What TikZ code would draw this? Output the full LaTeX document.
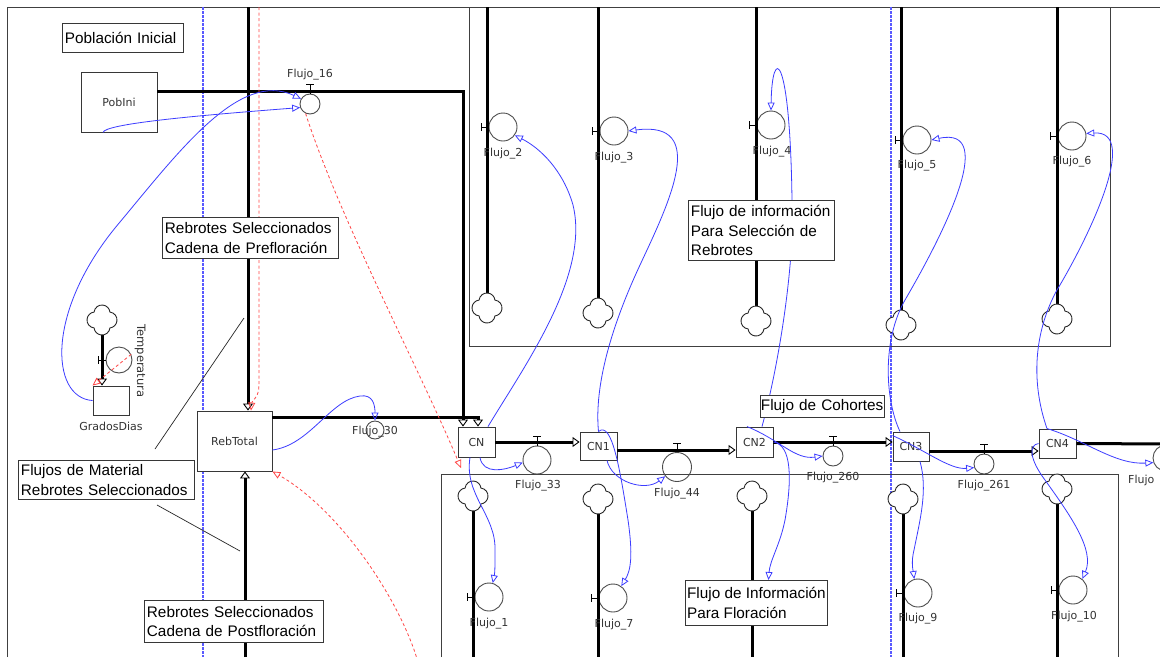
\documentclass[tikz,border=0pt]{standalone}
\usepackage{fontspec}
\setmainfont{Liberation Sans}
\newfontfamily\smallf{DejaVu Sans}
\usetikzlibrary{arrows.meta}
\definecolor{infob}{RGB}{60,60,255}
\definecolor{redd}{RGB}{255,70,70}
\definecolor{dotb}{RGB}{90,90,255}
\definecolor{edge}{RGB}{55,55,55}
\newcommand{\Hmark}[1]{\draw[hmk] ([xshift=-7pt]#1.west) ++(0,-4) -- ++(0,8) ([xshift=-7pt]#1.west) -- (#1.west);}
\newcommand{\Tmark}[1]{\draw[hmk] (#1.north) -- ++(0,-9) ++(-4,0) -- ++(8,0);}
\tikzset{
  pipe/.style={line width=3pt, draw=black},
  pipearrow/.style={pipe, -{Triangle[open, length=7pt, width=10pt, line width=0.9pt]}},
  valve/.style={circle, draw=black!70, line width=0.9pt, inner sep=0pt},
  lbl/.style={font=\smallf\fontsize{11}{13}\selectfont, text=black!80, inner sep=0pt},
  stock/.style={draw=edge, line width=0.9pt, fill=white, inner sep=0pt, font=\smallf\fontsize{11}{13}\selectfont, text=black!80},
  tbox/.style={draw=edge, line width=0.9pt, fill=white, align=left, inner xsep=2.5pt, inner ysep=0pt, font=\fontsize{15.3}{19.5}\selectfont, anchor=north west, execute at begin node={\hyphenpenalty=10000\exhyphenpenalty=10000}},
  info/.style={draw=infob, line width=0.8pt, -{Triangle[open, length=8pt, width=7pt, line width=0.8pt]}},
  rdash/.style={draw=redd, line width=0.8pt, dash pattern=on 3pt off 2.5pt, -{Triangle[open, length=8pt, width=7pt, line width=0.8pt]}},
  vdot/.style={draw=dotb, line width=1.2pt, dash pattern=on 2.5pt off 1.5pt},
  frame/.style={draw=black!75, line width=0.9pt},
  thinl/.style={draw=black!85, line width=0.7pt},
  hmk/.style={draw=black, line width=0.9pt},
  cloudn/.style={circle, minimum size=30pt, inner sep=0pt},
  cloudpic/.pic={\draw[x=1pt,y=1pt,draw=black!85,line width=0.9pt,fill=white]
     (-7.94,7.94) arc[start angle=173.25,end angle=6.75,radius=8pt]
     arc[start angle=83.25,end angle=-83.25,radius=8pt]
     arc[start angle=-6.75,end angle=-173.25,radius=8pt]
     arc[start angle=-96.75,end angle=-263.25,radius=8pt] -- cycle;}
}
\begin{document}
\begin{tikzpicture}[x=1pt,y=-1pt]
\useasboundingbox (0,0) rectangle (1160,657);
\clip (0,0) rectangle (1160,657);
\fill[white] (0,0) rectangle (1160,657);
\coordinate (topc) at (0,7);
\coordinate (botc) at (0,657);

% frames
\draw[frame] (7,657) -- (7,7) -- (1160,7);
\draw[frame] (469,7) rectangle (1110,346);
\draw[frame] (441,657) -- (441,474) -- (1118,474) -- (1118,657);

% dotted guide lines
\draw[vdot] (203,7) -- (203,657);
\draw[vdot] (891,7) -- (891,657);

% stocks
\node[stock, minimum width=76pt, minimum height=60pt] (pob) at (119,102) {PobIni};
\node[stock, minimum width=36pt, minimum height=29pt] (grados) at (111,400.5) {};
\node[stock, minimum width=75pt, minimum height=60pt] (reb) at (234.5,441) {RebTotal};
\node[stock, minimum width=37pt, minimum height=30pt] (cn) at (476.5,442) {CN};
\node[stock, minimum width=37pt, minimum height=28pt] (cn1) at (598.5,446) {CN1};
\node[stock, minimum width=37pt, minimum height=30pt] (cn2) at (754.5,442) {CN2};
\node[stock, minimum width=36pt, minimum height=29pt] (cn3) at (911,446.5) {CN3};
\node[stock, minimum width=37pt, minimum height=29pt] (cn4) at (1057.5,443.5) {CN4};

% clouds (placeholders)
\node[cloudn] (tc) at (102,320) {};
\node[cloudn] (uc1) at (487,308) {};
\node[cloudn] (uc2) at (598,313) {};
\node[cloudn] (uc3) at (756,321) {};
\node[cloudn] (uc4) at (901,325) {};
\node[cloudn] (uc5) at (1057,319) {};
\node[cloudn] (lc1) at (473,496) {};
\node[cloudn] (lc2) at (598,499) {};
\node[cloudn] (lc3) at (752,496) {};
\node[cloudn] (lc4) at (903,499) {};
\node[cloudn] (lc5) at (1057,489) {};

% valves
\node[valve, minimum size=20pt] (f16) at (310,104) {};
\node[valve, minimum size=18pt] (f30) at (375,430) {};
\node[valve, minimum size=26pt] (tv) at (119,360) {};
\node[valve, minimum size=28pt] (f2) at (503,127) {};
\node[valve, minimum size=28pt] (f3) at (614,131) {};
\node[valve, minimum size=28pt] (f4) at (771,125) {};
\node[valve, minimum size=28pt] (f5) at (917,140) {};
\node[valve, minimum size=28pt] (f6) at (1072,136) {};
\node[valve, minimum size=28pt] (f33) at (537,460) {};
\node[valve, minimum size=29pt] (f44) at (677,467) {};
\node[valve, minimum size=20pt] (f260) at (833,456) {};
\node[valve, minimum size=20pt] (f261) at (984,464) {};
\node[valve, minimum size=26pt] (fx) at (1166,458) {};
\node[valve, minimum size=28pt] (f1) at (489,597) {};
\node[valve, minimum size=28pt] (f7) at (613,598) {};
\node[valve, minimum size=28pt] (f9) at (918,593) {};
\node[valve, minimum size=28pt] (f10) at (1073,590) {};

% pipes
\coordinate (p0) at ([xshift=13.5pt]reb.north);
\draw[pipearrow] (p0 |- topc) -- (p0);
\coordinate (pb) at ([xshift=10.5pt]reb.south);
\draw[pipearrow] (pb |- botc) -- (pb);
\coordinate (pp) at ([yshift=11pt]pob.east);
\coordinate (pc) at ([xshift=-13.5pt]cn.north);
\draw[pipearrow] (pp) -| (pc);
\coordinate (pr) at ([yshift=24pt]reb.east);
\coordinate (pc2) at ([xshift=1.5pt]cn.north);
\draw[pipearrow] (pr) -| (pc2);
\draw[pipearrow] (tc.south) -- ([xshift=-9pt]grados.north);
\draw[pipearrow] (cn.east) -- (cn.east -| cn1.west);
\coordinate (p12) at ([yshift=-4pt]cn1.east);
\draw[pipearrow] (p12) -- (p12 -| cn2.west);
\draw[pipearrow] (cn2.east) -- (cn2.east -| cn3.west);
\coordinate (p34) at ([yshift=-4.5pt]cn3.east);
\draw[pipearrow] (p34) -- (p34 -| cn4.west);
\coordinate (pend) at (1170,444);
\draw[pipe] (cn4.east) -- (pend);
\foreach \c in {uc1,uc2,uc3,uc4,uc5}{\draw[pipe] (\c.north) -- (\c.north |- topc);}
\foreach \c in {lc1,lc2,lc3,lc4,lc5}{\draw[pipe] (\c.south) -- (\c.south |- botc);}

% cloud drawings
\foreach \c in {tc,uc1,uc2,uc3,uc4,uc5,lc1,lc2,lc3,lc4,lc5}{\pic at (\c) {cloudpic};}

% valve marks
\Tmark{f16} \Tmark{f33} \Tmark{f44} \Tmark{f260} \Tmark{f261} \Tmark{fx}
\Hmark{tv} \Hmark{f2} \Hmark{f3} \Hmark{f4} \Hmark{f5} \Hmark{f6}
\Hmark{f1} \Hmark{f7} \Hmark{f9} \Hmark{f10}

% labels
\node[lbl] (l16) at (310,75) {Flujo\_16};
\node[lbl] (l30) at (375,432) {Flujo\_30};
\node[lbl] (lgd) at (111,426) {GradosDias};
\node[lbl, rotate=-90, font=\smallf\fontsize{11.5}{13}\selectfont] (ltemp) at (140,361) {Temperatura};
\node[lbl] (l2) at (503,154) {Flujo\_2};
\node[lbl] (l3) at (614,158) {Flujo\_3};
\node[lbl] (l4) at (772,152) {Flujo\_4};
\node[lbl] (l5) at (917,166) {Flujo\_5};
\node[lbl] (l6) at (1072,162) {Flujo\_6};
\node[lbl] (l33) at (538,486) {Flujo\_33};
\node[lbl] (l44) at (677,494) {Flujo\_44};
\node[lbl] (l260) at (833,478) {Flujo\_260};
\node[lbl] (l261) at (984,486) {Flujo\_261};
\node[lbl, anchor=west] (lx) at (1128,480) {Flujo};
\node[lbl] (l1) at (489,624) {Flujo\_1};
\node[lbl] (l7) at (614,625) {Flujo\_7};
\node[lbl] (l9) at (918,619) {Flujo\_9};
\node[lbl] (l10) at (1074,617) {Flujo\_10};

% annotation pointer lines
\coordinate (a1) at (244,318); \coordinate (a2) at (155,449);
\coordinate (a3) at (157,505); \coordinate (a4) at (240,551);
\draw[thinl] (a1) -- (a2);
\draw[thinl] (a3) -- (a4);

% red dashed information links
\coordinate (rtop) at (259,7);
\coordinate (rcn) at (461,468);
\coordinate (rbot) at (418,662);
\draw[rdash] (tv.25) -- (grados.north west);
\draw[rdash] (f16.-115) .. controls (340,220) and (420,370) .. (rcn);
\draw[rdash] (rbot) .. controls (400,600) and (340,510) .. (reb.south east);
\draw[rdash] (rtop) -- (259,385) .. controls (259,398) and (252,400) .. ([xshift=16.5pt]reb.north);

% blue information links
\draw[info] ([xshift=-16pt]pob.south) .. controls (105,124) and (190,116) .. (f16.200);
\draw[info] (grados.west) .. controls (50,398) and (45,310) .. (120,222) .. controls (180,150) and (240,70) .. (f16.150);
\draw[info] ([yshift=-9pt]reb.east) .. controls (310,445) and (330,400) .. (360,396) .. controls (373,394) and (375,405) .. (f30.north);
\draw[info] ([xshift=11.5pt]cn.north) .. controls (525,365) and (590,275) .. (573,205) .. controls (563,170) and (540,148) .. (f2.-35);
\draw[info] (cn1.north) .. controls (594,385) and (612,325) .. (640,265) .. controls (668,205) and (710,120) .. (f3.east);
\draw[info] (cn1.north) .. controls (612,420) and (620,470) .. (628,520) .. controls (633,555) and (631,570) .. (f7.55);
\draw[info] ([xshift=8.5pt]cn1.south) .. controls (612,482) and (645,492) .. (f44.218);
\draw[info] ([xshift=3.5pt]cn.south) .. controls (483,475) and (505,470) .. (f33.190);
\draw[info] ([xshift=-6.5pt]cn.south) .. controls (464,495) and (496,515) .. (495,550) .. controls (495,565) and (495,572) .. (f1.75);
\draw[info] ([xshift=7.5pt]cn2.north) .. controls (780,360) and (795,260) .. (792,200) .. controls (790,50) and (772,45) .. (f4.north);
\draw[info] ([xshift=-7.5pt]cn2.north) .. controls (780,440) and (795,460) .. (f260.west);
\draw[info] ([xshift=-11pt]cn3.north) .. controls (885,400) and (882,340) .. (905,300) .. controls (940,240) and (1000,125) .. (f5.east);
\draw[info] ([yshift=-4pt]cn3.north west) .. controls (925,450) and (950,470) .. (f261.200);
\draw[info] ([xshift=9pt]cn3.south) .. controls (928,490) and (920,520) .. (914,550) .. controls (911,562) and (913,570) .. (f9.105);
\draw[info] ([xshift=-10.5pt]cn4.north) .. controls (1030,380) and (1035,330) .. (1057,290) .. controls (1090,235) and (1140,130) .. (f6.10);
\draw[info] (cn4.west) .. controls (1028,445) and (1030,460) .. (1045,480) .. controls (1070,515) and (1095,550) .. (f10.50);
\draw[info] ([xshift=-10.5pt]cn4.north) .. controls (1085,440) and (1115,465) .. (fx.200);

% text boxes
\node[tbox, text width=116pt, minimum height=29pt] (pobl) at (62,23) {Población Inicial};
\node[tbox, text width=171pt, minimum height=41pt] (preflor) at (162,217) {Rebrotes Seleccionados\\Cadena de Prefloración};
\node[tbox, text width=171pt, minimum height=39pt] (material) at (18,460) {Flujos de Material\\Rebrotes Seleccionados};
\node[tbox, text width=174pt, minimum height=42pt] (postflor) at (144,600) {Rebrotes Seleccionados\\Cadena de Postfloración};
\node[tbox, text width=141pt, minimum height=60pt] (infosel) at (688,200) {Flujo de información\\Para Selección de\\Rebrotes};
\node[tbox, text width=123pt, inner xsep=0.5pt, minimum height=22pt] (cohortes) at (760,395) {Flujo de Cohortes};
\node[tbox, inner xsep=1pt, minimum width=142pt, minimum height=45pt] (infoflor) at (685,580) {Flujo de Información\\Para Floración};

\draw[info] (cn2.east) .. controls (792,445) and (792,480) .. (785,520) .. controls (780,545) and (770,560) .. ([xshift=12pt]infoflor.north);
\end{tikzpicture}
\end{document}
